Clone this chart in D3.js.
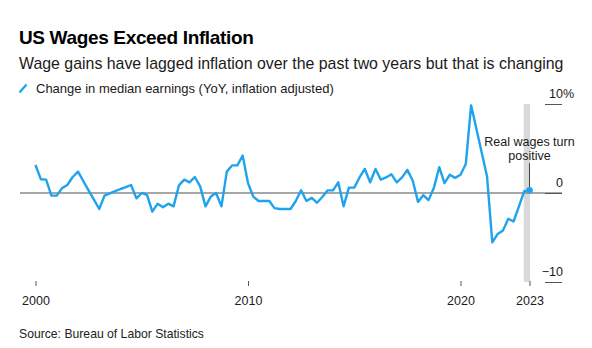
<!DOCTYPE html>
<html>
<head>
<meta charset="utf-8">
<script src="https://cdn.jsdelivr.net/npm/d3@7"></script>
<style>
  html, body { margin: 0; padding: 0; background: #fff; }
  svg { display: block; font-family: "Liberation Sans", Arial, sans-serif; }
</style>
</head>
<body>
<svg id="chart" width="592" height="348"></svg>
<script>
// Real median weekly earnings, year-over-year % change, one value per quarter
// (first value: Q4 1999, last value: Q1 2023), plotted at each quarter's end.
const firstQuarterEnd = new Date(2000, 0, 1);
const realWageChange = [
  3.15, 1.55, 1.5, -0.3, -0.3, 0.55, 0.9, 1.8, 2.4, 1.35,
  0.3, -0.75, -1.8, -0.3, -0.05, 0.2, 0.45, 0.65, 0.9, -0.6,
  0.0, -0.2, -2.1, -1.2, -1.6, -1.2, -1.5, 0.85, 1.5, 1.2,
  1.8, 0.75, -1.5, -0.4, 0.0, -1.5, 2.4, 3.1, 3.1, 4.2,
  1.1, -0.4, -0.9, -0.9, -0.9, -1.7, -1.8, -1.8, -1.8, -0.9,
  0.3, -0.9, -0.55, -1.1, -0.45, 0.3, 0.3, 1.2, -1.5, 0.6,
  0.6, 1.75, 2.7, 1.2, 2.7, 1.5, 1.75, 2.1, 1.2, 1.75,
  2.6, 1.4, -1.0, -0.25, -0.8, 0.6, 2.9, 1.1, 2.05, 1.7,
  2.05, 3.25, 9.85, 7.2, 4.5, 1.85, -5.55, -4.6, -4.2, -2.9,
  -3.2, -1.5, 0.2, 0.3
];
const xTickYears = [2000, 2010, 2020];
const lastTickLabel = "2023";
const yTickValues = [10, 0, -10];

const title = "US Wages Exceed Inflation";
const subtitle = "Wage gains have lagged inflation over the past two years but that is changing";
const legendLabel = "Change in median earnings (YoY, inflation adjusted)";
const annotationLines = ["Real wages turn", "positive"];
const sourceNote = "Source: Bureau of Labor Statistics";

const lineColor = "#1fa3ec";

const data = realWageChange.map((v, i) => ({
  date: d3.timeMonth.offset(firstQuarterEnd, 3 * i),
  value: v
}));
const lastPoint = data[data.length - 1];

const svg = d3.select("#chart");

const x = d3.scaleTime()
  .domain([firstQuarterEnd, lastPoint.date])
  .range([35.5, 529.5]);
const y = d3.scaleLinear()
  .domain([-10, 10])
  .range([282, 104]);

// Header
svg.append("text")
  .attr("x", 19).attr("y", 44)
  .attr("font-size", 19).attr("font-weight", 700).attr("fill", "#000")
  .attr("letter-spacing", -0.35)
  .text(title);
svg.append("text")
  .attr("x", 19).attr("y", 69)
  .attr("font-size", 15.9).attr("fill", "#1a1a1a")
  .text(subtitle);

// Legend
svg.append("line")
  .attr("x1", 19.5).attr("y1", 92.5).attr("x2", 26.5).attr("y2", 84.5)
  .attr("stroke", lineColor).attr("stroke-width", 2.2);
svg.append("text")
  .attr("x", 36).attr("y", 92.5)
  .attr("font-size", 13).attr("fill", "#1a1a1a")
  .text(legendLabel);

// Highlight band for the latest quarter
const bandStart = d3.timeMonth.offset(lastPoint.date, -3);
svg.append("rect")
  .attr("x", x(bandStart) - 0.5)
  .attr("y", y(10))
  .attr("width", x(lastPoint.date) - x(bandStart) + 1)
  .attr("height", y(-10) - y(10))
  .attr("fill", "#d9d9d9");

// Zero line
svg.append("line")
  .attr("x1", 20).attr("x2", 562)
  .attr("y1", y(0)).attr("y2", y(0))
  .attr("stroke", "#8a8a8a").attr("stroke-width", 1.3);

// Right-hand value axis: short rules with labels sitting above them
const yAxis = d3.axisLeft(y)
  .tickValues(yTickValues)
  .tickSize(17)
  .tickFormat(d => d3.format("d")(d));
const yAxisG = svg.append("g")
  .attr("transform", "translate(562,0)")
  .call(yAxis);
yAxisG.select(".domain").remove();
yAxisG.selectAll(".tick line").attr("stroke", "#555").attr("stroke-width", 1);
yAxisG.selectAll(".tick text")
  .attr("x", 1).attr("dy", -7)
  .attr("text-anchor", "end")
  .attr("font-family", "Liberation Sans, Arial, sans-serif")
  .attr("font-size", 12.5).attr("fill", "#1a1a1a");
yAxisG.selectAll(".tick").filter(d => d === 10)
  .append("text")
  .attr("x", 1).attr("dy", -7)
  .attr("text-anchor", "start")
  .attr("font-family", "Liberation Sans, Arial, sans-serif")
  .attr("font-size", 12.5).attr("fill", "#1a1a1a")
  .text("%");

// Time axis
const xTicks = xTickYears.map(yr => new Date(yr, 0, 1)).concat([lastPoint.date]);
const xAxis = d3.axisBottom(x)
  .tickValues(xTicks)
  .tickSize(5)
  .tickPadding(10)
  .tickFormat((d, i) => i === xTicks.length - 1 ? lastTickLabel : d3.timeFormat("%Y")(d));
const xAxisG = svg.append("g")
  .attr("transform", "translate(0,281)")
  .call(xAxis);
xAxisG.select(".domain").remove();
xAxisG.selectAll(".tick line").attr("stroke", "#555");
xAxisG.selectAll(".tick text")
  .attr("font-family", "Liberation Sans, Arial, sans-serif")
  .attr("font-size", 12.5).attr("fill", "#1a1a1a");

// Series line
const line = d3.line()
  .x(d => x(d.date))
  .y(d => y(d.value));
svg.append("path")
  .datum(data)
  .attr("d", line)
  .attr("fill", "none")
  .attr("stroke", lineColor)
  .attr("stroke-width", 2.4)
  .attr("stroke-linejoin", "round");

// Annotation
svg.append("line")
  .attr("x1", x(lastPoint.date)).attr("x2", x(lastPoint.date))
  .attr("y1", 163).attr("y2", y(lastPoint.value) - 3)
  .attr("stroke", "#444").attr("stroke-width", 1);
svg.append("circle")
  .attr("cx", x(lastPoint.date)).attr("cy", y(lastPoint.value))
  .attr("r", 3.3).attr("fill", lineColor);
const ann = svg.append("text")
  .attr("text-anchor", "middle")
  .attr("font-size", 12.5).attr("fill", "#1a1a1a");
annotationLines.forEach((t, i) => {
  ann.append("tspan")
    .attr("x", x(lastPoint.date)).attr("y", 145.5 + i * 14)
    .text(t);
});

// Source
svg.append("text")
  .attr("x", 19).attr("y", 337.5)
  .attr("font-size", 12.2).attr("fill", "#222")
  .text(sourceNote);
</script>
</body>
</html>
